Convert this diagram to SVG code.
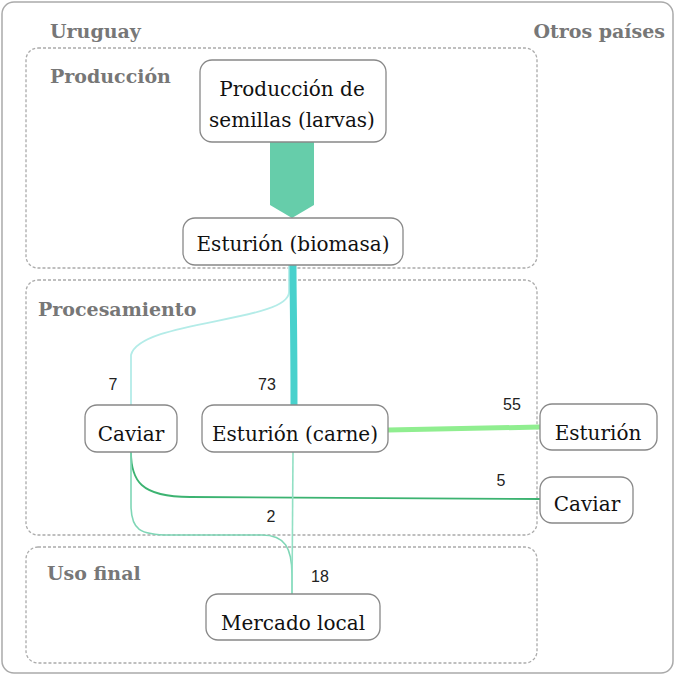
<svg xmlns="http://www.w3.org/2000/svg" width="675" height="675" viewBox="0 0 675 675">
  <style>
    .frame { fill: #fff; stroke: #aaaaaa; stroke-width: 1.5; }
    .zone { fill: none; stroke: #aaaaaa; stroke-width: 1.3; stroke-dasharray: 3 2; }
    .node rect { fill: #fff; stroke: #888888; stroke-width: 1.3; }
    .node text { font-family: "DejaVu Serif", "Liberation Serif", serif; font-size: 20px; fill: #111; text-anchor: middle; }
    .zlabel { font-family: "DejaVu Serif", "Liberation Serif", serif; font-size: 19px; font-weight: bold; fill: #777777; }
    .qty { font-family: "Liberation Sans", Arial, sans-serif; font-size: 16px; fill: #222; text-anchor: middle; }
    .flow { fill: none; }
  </style>

  <!-- outer frame -->
  <rect class="frame" x="2" y="2" width="671" height="671" rx="12"/>
  <text class="zlabel" x="50" y="38">Uruguay</text>
  <text class="zlabel" x="665" y="38" text-anchor="end">Otros países</text>

  <!-- stage zones -->
  <g id="zona-produccion">
    <rect class="zone" x="26" y="48" width="511" height="220" rx="12"/>
    <text class="zlabel" x="50" y="83">Producción</text>
  </g>
  <g id="zona-procesamiento">
    <rect class="zone" x="26" y="280" width="511" height="255" rx="12"/>
    <text class="zlabel" x="38" y="316">Procesamiento</text>
  </g>
  <g id="zona-uso-final">
    <rect class="zone" x="26" y="547" width="511" height="116" rx="12"/>
    <text class="zlabel" x="47" y="580">Uso final</text>
  </g>

  <!-- flows -->
  <g id="connectors">
    <polygon points="270,142 314,142 314,205 292,218 270,205" fill="#66cdaa"/>
    <path class="flow" d="M289,265 L289,292 C289,322 140,320 131,355 L131,405" stroke="#b4ece8" stroke-width="1.8"/>
    <path class="flow" d="M293,265 C293,300 294,330 294,405" stroke="#48d1cc" stroke-width="7"/>
    <path class="flow" d="M388,430 L540,427" stroke="#90ee90" stroke-width="5"/>
    <path class="flow" d="M131,452 C131,480 140,497 190,497 L540,499" stroke="#3cb371" stroke-width="1.8"/>
    <path class="flow" d="M131,452 L131,505 C131,530 140,535 170,535 L262,535 C285,535 292,548 292,575 L292,594" stroke="#7fd6b6" stroke-width="1.6"/>
    <path class="flow" d="M293,452 L292,594" stroke="#92e0c4" stroke-width="1.6"/>
    <text class="qty" x="113" y="390">7</text>
    <text class="qty" x="267" y="390">73</text>
    <text class="qty" x="512" y="410">55</text>
    <text class="qty" x="501" y="486">5</text>
    <text class="qty" x="271" y="522">2</text>
    <text class="qty" x="320" y="582">18</text>
  </g>

  <!-- nodes -->
  <g id="semillas" class="node">
    <rect x="200" y="60" width="186" height="82" rx="12"/>
    <text x="292" y="96">Producción de</text>
    <text x="292" y="127">semillas (larvas)</text>
  </g>
  <g id="biomasa" class="node">
    <rect x="183" y="218" width="220" height="47" rx="12"/>
    <text x="293" y="251">Esturión (biomasa)</text>
  </g>
  <g id="caviar-uy" class="node">
    <rect x="85" y="405" width="92" height="47" rx="12"/>
    <text x="131" y="441">Caviar</text>
  </g>
  <g id="carne" class="node">
    <rect x="202" y="405" width="186" height="47" rx="12"/>
    <text x="295" y="441">Esturión (carne)</text>
  </g>
  <g id="esturion-ext" class="node">
    <rect x="540" y="404" width="117" height="46" rx="12"/>
    <text x="598" y="440">Esturión</text>
  </g>
  <g id="caviar-ext" class="node">
    <rect x="540" y="477" width="93" height="46" rx="12"/>
    <text x="587" y="511">Caviar</text>
  </g>
  <g id="mercado-local" class="node">
    <rect x="206" y="594" width="174" height="46" rx="12"/>
    <text x="293" y="630">Mercado local</text>
  </g>
</svg>
